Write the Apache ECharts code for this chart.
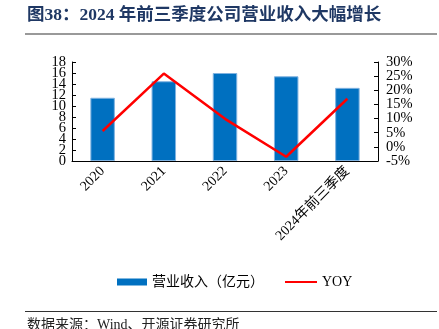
<!DOCTYPE html>
<html>
<head>
<meta charset="utf-8">
<script src="https://cdn.jsdelivr.net/npm/echarts@6/dist/echarts.min.js"></script>
<style>
  html, body { margin: 0; padding: 0; background: #fff; }
  #chart { width: 439px; height: 329px; }
</style>
</head>
<body>
<div id="chart"></div>
<script>
// Revenue (100m yuan) and year-over-year growth (%)
const categories = ['2020', '2021', '2022', '2023', '2024年前三季度'];
const revenue = [11.5, 14.5, 16.0, 15.4, 13.3];
const yoy = [5.6, 25.9, 9.9, -3.5, 17.0];
const leftTicks = { min: 0, max: 18, interval: 2 };
const rightTicks = { min: -5, max: 30, interval: 5 };

const serif = '"Liberation Serif", "Times New Roman", "Noto Sans CJK SC", serif';
const cjk = '"Liberation Serif", "Noto Sans CJK SC", serif';

const labelFont = { fontFamily: serif, fontSize: 14.5, color: '#000' };

// The tick labels are taller than the tick spacing, so ECharts drops the
// neighbours of the end labels. A second, label-only axis on each side
// (same scale, end labels off) draws the inner labels instead.
function valueAxis(ticks, position, suffix, ends) {
  return {
    type: 'value', position, ...ticks,
    splitLine: { show: false },
    axisLine: { show: ends, lineStyle: { color: '#000' } },
    axisTick: { show: ends, inside: true, length: 4, lineStyle: { color: '#000' } },
    axisLabel: {
      ...labelFont,
      margin: position === 'left' ? 6 : 8,
      showMinLabel: ends, showMaxLabel: ends,
      formatter: v => {
        const isEnd = v === ticks.min || v === ticks.max;
        return ends === isEnd ? v + suffix : '';
      }
    }
  };
}

const chart = echarts.init(document.getElementById('chart'));
chart.setOption({
  animation: false,
  backgroundColor: '#fff',
  grid: { left: 72, right: 61, top: 62, bottom: 168 },
  graphic: [
    { type: 'text', left: 27, top: 7,
      style: { text: '图38：2024 年前三季度公司营业收入大幅增长', fill: '#1F3864',
               font: 'bold 17.5px ' + cjk } },
    { type: 'rect', shape: { x: 25, y: 33, width: 412, height: 2 }, style: { fill: '#999' } },
    { type: 'rect', shape: { x: 25, y: 311, width: 412, height: 1 }, style: { fill: '#333' } },
    { type: 'text', left: 27, top: 318,
      style: { text: '数据来源：Wind、开源证券研究所', fill: '#222', font: '14px ' + cjk } }
  ],
  legend: [
    {
      left: 112, top: 270,
      textStyle: { fontFamily: cjk, fontSize: 14, color: '#000' },
      data: [{ name: '营业收入（亿元）', icon: 'rect', itemStyle: { color: '#0070C0', borderWidth: 0 } }],
      itemWidth: 30, itemHeight: 7
    },
    {
      left: 280, top: 270,
      textStyle: { fontFamily: cjk, fontSize: 14, color: '#000' },
      data: [{ name: 'YOY', icon: 'rect', itemStyle: { color: '#FF0000' } }],
      itemWidth: 32, itemHeight: 2, itemGap: 2
    }
  ],
  xAxis: {
    type: 'category',
    data: categories,
    axisLine: { lineStyle: { color: '#000', width: 1 } },
    axisTick: { inside: true, length: 4, lineStyle: { color: '#000' } },
    axisLabel: { rotate: 45, fontFamily: cjk, fontSize: 14, color: '#000', margin: 8, interval: 0 }
  },
  yAxis: [
    valueAxis(leftTicks, 'left', '', true),
    valueAxis(rightTicks, 'right', '%', true),
    valueAxis(leftTicks, 'left', '', false),
    valueAxis(rightTicks, 'right', '%', false)
  ],
  series: [
    {
      name: '营业收入（亿元）', type: 'bar', data: revenue, barWidth: '40%',
      itemStyle: { color: '#0070C0', borderColor: '#7FB2E0', borderWidth: 1 }
    },
    {
      name: 'YOY', type: 'line', yAxisIndex: 1, data: yoy,
      symbol: 'none', lineStyle: { color: '#FF0000', width: 2.5 },
      itemStyle: { color: '#FF0000' }
    }
  ]
});
</script>
</body>
</html>
